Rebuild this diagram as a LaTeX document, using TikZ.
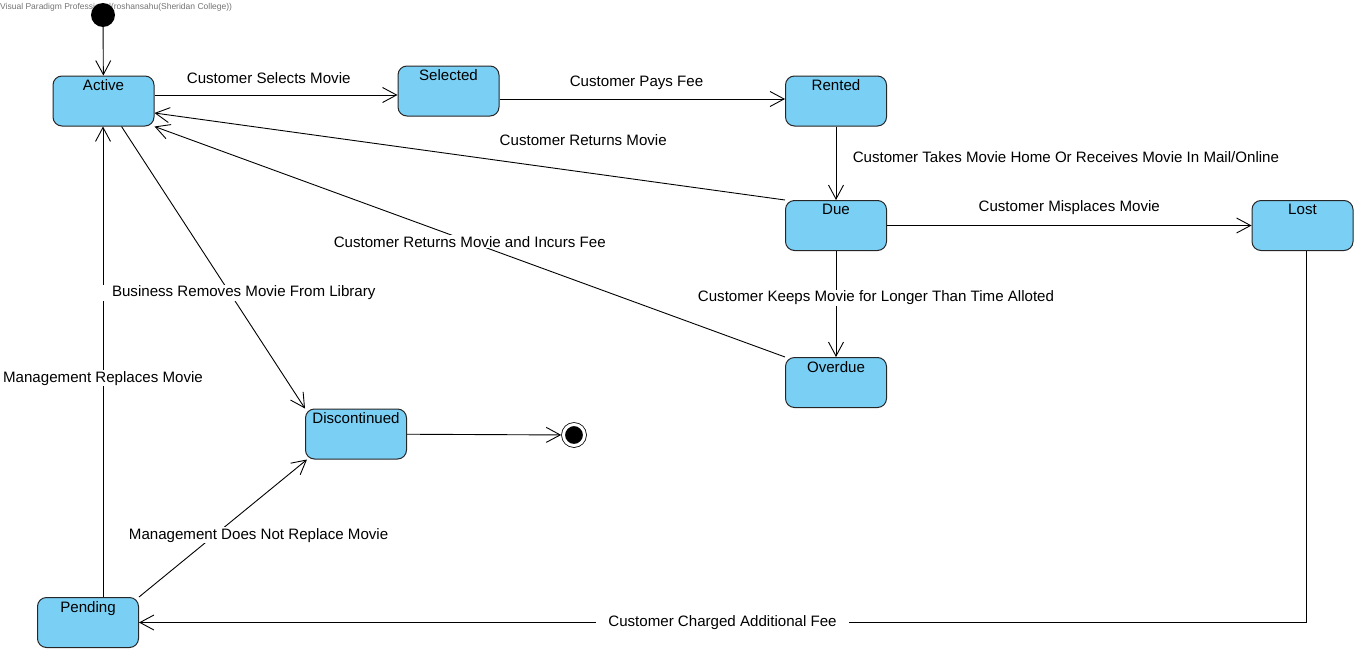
\documentclass[tikz,border=0pt]{standalone}
\usepackage{fontspec}
\setmainfont{Liberation Sans}
\usetikzlibrary{arrows.meta}

\definecolor{statefill}{RGB}{122,207,245}

\begin{document}
\begin{tikzpicture}[
    x=1pt, y=-1pt,
    every node/.style={font=\fontsize{15.1}{17}\selectfont},
    stbox/.style={draw=black!85, line width=1pt, fill=statefill, rounded corners=9pt,
        minimum width=101pt, minimum height=50pt, inner sep=0pt,
        label={[anchor=north, inner sep=2pt, yshift=-2pt]north:#1}},
    startdot/.style={circle, fill=black, minimum size=24pt, inner sep=0pt},
    enddot/.style={circle, draw=black, fill=black, line width=0.8pt, double=white,
        double distance=3pt, minimum size=21pt, inner sep=0pt, outer sep=2.3pt},
    trans/.style={line width=0.9pt, -{Straight Barb[length=14pt, width=15pt]}},
    onlbl/.style={fill=white, inner xsep=12pt, inner ysep=1pt}
]
\useasboundingbox (0,0) rectangle (1359,653);

% Watermark
\node[anchor=west, inner sep=0pt, text=black!55, font=\fontsize{8.5}{10}\selectfont] (wm) at (0,7) {Visual Paradigm Professional(roshansahu(Sheridan College))};

% States
\node[startdot] (init) at (103,15) {};
\node[stbox=Active] (active) at (103.5,101) {};
\node[stbox=Selected] (selected) at (448.5,91) {};
\node[stbox=Rented] (rented) at (836,101) {};
\node[stbox=Due] (due) at (836,225.5) {};
\node[stbox=Lost] (lost) at (1302.5,225.5) {};
\node[stbox=Overdue] (overdue) at (836,382.5) {};
\node[stbox=Discontinued] (discont) at (356,434) {};
\node[stbox=Pending] (pending) at (88,622.5) {};
\node[enddot] (final) at (574,435) {};

% Transitions
\draw[trans] (init) -- (active);
\draw[trans] ([yshift=6pt]active.east) -- node[pos=0.47, yshift=17pt] {Customer Selects Movie} ([yshift=-4pt]selected.west);
\draw[trans] ([yshift=-8pt]selected.east) -- node[pos=0.48, yshift=16pt] {Customer Pays Fee} ([yshift=2pt]rented.west);
\draw[trans] (rented) -- node[pos=0.42, anchor=west, xshift=13pt] {Customer Takes Movie Home Or Receives Movie In Mail/Online} (due);
\draw[trans] (due.north west) -- node[pos=0.32, yshift=32pt] {Customer Returns Movie} ([yshift=-12pt]active.east);
\draw[trans] (overdue.north west) -- node[pos=0.5, onlbl, inner xsep=1pt] {Customer Returns Movie and Incurs Fee} (active.south east);
\draw[trans] (due) -- node[midway, yshift=18pt] {Customer Misplaces Movie} (lost);
\draw[trans] (due) -- node[pos=0.44, xshift=40pt, onlbl] {Customer Keeps Movie for Longer Than Time Alloted} (overdue);
\draw[trans] ([xshift=15pt]pending.north) -- node[pos=0.465, onlbl] {Management Replaces Movie} ([xshift=-0.5pt]active.south);
\draw[trans] ([xshift=18pt]active.south) -- node[pos=0.59, xshift=14pt, onlbl] {Business Removes Movie From Library} (discont.north west);
\draw[trans] (pending.north east) -- node[pos=0.45, xshift=44pt, onlbl] {Management Does Not Replace Movie} ([xshift=2pt]discont.south west);
\draw[trans] ([xshift=3.5pt]lost.south) |- node[pos=0.75, onlbl] {Customer Charged Additional Fee} (pending.east);
\draw[trans] (discont) -- (final);

\end{tikzpicture}
\end{document}
